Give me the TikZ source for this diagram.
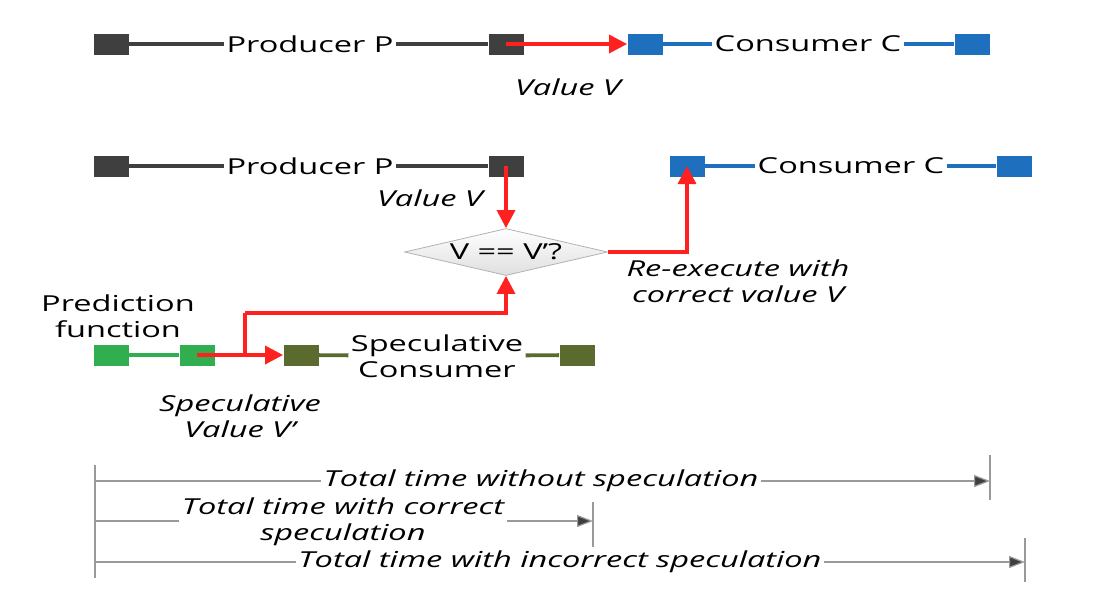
\documentclass[tikz,border=0pt]{standalone}
\usepackage{fontspec}
\setmainfont{Open Sans}[FakeStretch=1.48]
\usetikzlibrary{shapes.geometric,arrows.meta}
\definecolor{cdark}{HTML}{3F3F3F}
\definecolor{cblue}{HTML}{1F6FBF}
\definecolor{cgreen}{HTML}{30AE50}
\definecolor{colive}{HTML}{5B6B30}
\definecolor{cred}{HTML}{FF2020}
\tikzstyle{blk}=[fill=cdark, draw=none, shape=rectangle, minimum width=17.5pt, minimum height=10.5pt, inner sep=0pt]
\tikzstyle{blu}=[blk, fill=cblue]
\tikzstyle{grn}=[blk, fill=cgreen]
\tikzstyle{olv}=[blk, fill=colive]
\tikzstyle{lbl}=[inner sep=1pt, font=\fontsize{11}{13}\selectfont, align=center]
\tikzstyle{val}=[lbl, font=\fontsize{11}{13}\selectfont\itshape]
\tikzstyle{lin}=[line width=1.9pt]
\tikzstyle{sig}=[draw=cred, line width=1.7pt, -{Triangle[length=9pt, width=9pt]}]
\tikzstyle{dec}=[shape=diamond, draw=gray!60, top color=white, bottom color=gray!25, minimum width=101.5pt, minimum height=23.5pt, inner sep=0pt, aspect=4.3]
\tikzstyle{tl}=[draw=gray!80, line width=0.6pt]
\tikzstyle{ta}=[tl, -{Triangle[length=8pt, width=6pt, fill=cdark]}]

\begin{document}
\begin{tikzpicture}[x=0.5pt, y=-0.5pt]
		\useasboundingbox (0,0) rectangle (1104,602);

		% without speculation
		\node [style=blk] (10) at (111, 44) {};
		\node [style=lbl] (11) at (310, 44) {Producer P};
		\node [style=blk] (12) at (506, 44) {};
		\node [style=blu] (13) at (645, 44) {};
		\node [style=lbl] (14) at (808, 44) {Consumer C};
		\node [style=blu] (15) at (972, 44) {};
		\node [style=val] (16) at (568, 87) {Value V};

		\draw [lin, cdark] (10) to (11);
		\draw [lin, cdark] (11) to (12);
		\draw [lin, cblue] (13) to (14);
		\draw [lin, cblue] (14) to (15);
		\draw [sig] (12.center) to (13.west);

		% with speculation
		\node [style=blk] (20) at (111, 166) {};
		\node [style=lbl] (21) at (310, 166) {Producer P};
		\node [style=blk] (22) at (506, 166) {};
		\node [style=val] (23) at (430, 198) {Value V};
		\node [style=blu] (24) at (687, 166) {};
		\node [style=lbl] (25) at (851, 166) {Consumer C};
		\node [style=blu] (26) at (1014, 166) {};

		\draw [lin, cdark] (20) to (21);
		\draw [lin, cdark] (21) to (22);
		\draw [lin, cblue] (24) to (25);
		\draw [lin, cblue] (25) to (26);

		\node [style=dec] (30) at (506, 252) {\fontsize{11}{13}\selectfont V == V’?};
		\node [style=val] (31) at (738, 281) {Re-execute with\\correct value V};

		\draw [sig] (22.center) to (30.north);
		\draw [sig] (30.east) -| (24.center);

		\node [style=lbl] (40) at (118, 316) {Prediction\\function};
		\node [style=grn] (41) at (111, 355) {};
		\node [style=grn] (42) at (197, 355) {};
		\node [style=olv] (43) at (301, 355) {};
		\node [style=lbl] (44) at (437, 356) {Speculative\\Consumer};
		\node [style=olv] (45) at (577, 355) {};
		\node [style=val] (46) at (240, 416) {Speculative\\Value V’};

		\draw [lin, cgreen] (41) to (42);
		\draw [lin, colive] (43) to (44);
		\draw [lin, colive] (44) to (45);

		\coordinate (47) at (245, 355);
		\coordinate (48) at (245, 313);
		\draw [sig] (42.center) to (43.west);
		\draw [sig, -] (47) to (48);
		\draw [sig] (48) -| (30.south);

		% timing
		\coordinate (50) at (95, 465);
		\coordinate (51) at (95, 578);
		\draw [tl] (50) to (51);

		\coordinate (52) at (990, 455);
		\coordinate (53) at (990, 500);
		\coordinate (54) at (593, 502);
		\coordinate (55) at (593, 547);
		\coordinate (56) at (1025, 538);
		\coordinate (57) at (1025, 582);
		\draw [tl] (52) to (53);
		\draw [tl] (54) to (55);
		\draw [tl] (56) to (57);

		\coordinate (60) at (95, 481);
		\node [style=val] (61) at (541, 481) {Total time without speculation};
		\coordinate (62) at (990, 481);
		\coordinate (63) at (95, 521);
		\node [style=val] (64) at (343, 522) {Total time with correct\\speculation};
		\coordinate (65) at (593, 521);
		\coordinate (66) at (95, 562);
		\node [style=val] (67) at (560, 562) {Total time with incorrect speculation};
		\coordinate (68) at (1025, 562);

		\draw [tl] (60) to (61);
		\draw [ta] (61) to (62);
		\draw [tl] (63) to (63 -| 64.west);
		\draw [ta] (64.east |- 65) to (65);
		\draw [tl] (66) to (67);
		\draw [ta] (67) to (68);
\end{tikzpicture}
\end{document}
